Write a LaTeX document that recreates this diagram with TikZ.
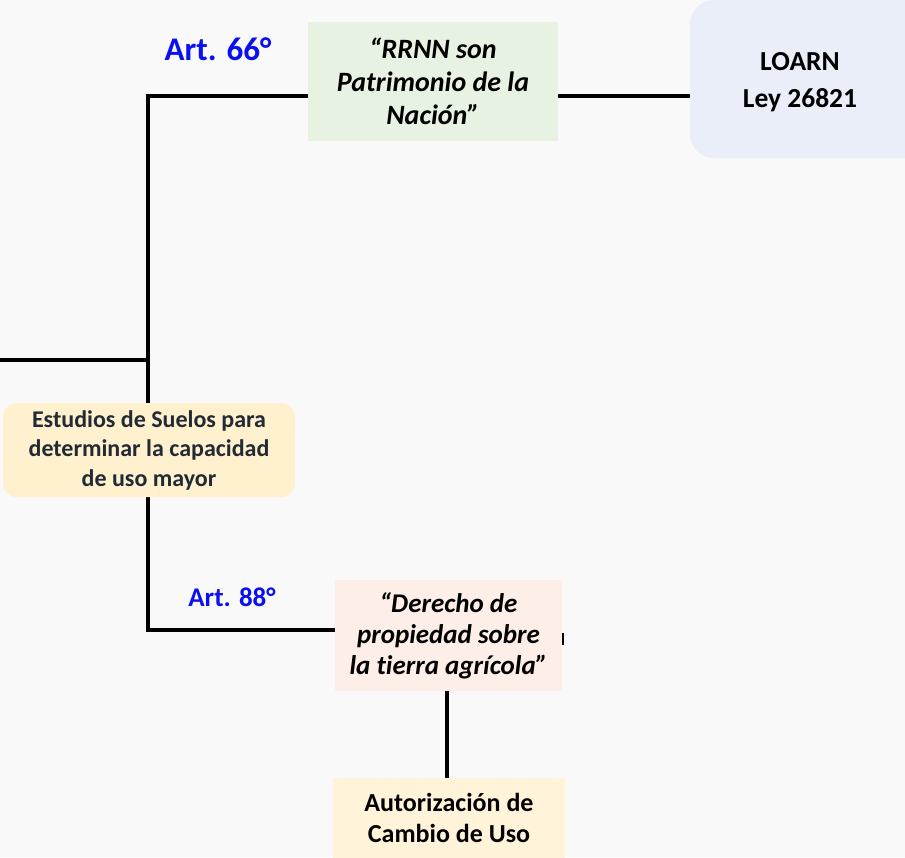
\documentclass[tikz,border=0pt]{standalone}
\usepackage{fontspec}
\setmainfont{Carlito}[Ligatures=NoCommon]
\usetikzlibrary{backgrounds}
\definecolor{bgc}{HTML}{F9F9F9}
\definecolor{greenbox}{HTML}{E7F2E2}
\definecolor{bluebox}{HTML}{E9EEF9}
\definecolor{yellowbox}{HTML}{FFF1CE}
\definecolor{peachbox}{HTML}{FDEFE7}
\definecolor{lightyellow}{HTML}{FFF3D9}
\definecolor{darktext}{HTML}{222A35}
\definecolor{artblue}{HTML}{0A10F0}
\tikzset{
  box/.style={draw=none, inner sep=0pt, align=center, font=\bfseries},
  conn/.style={line width=3.6pt, black},
  artlabel/.style={text=artblue, font=\bfseries, inner sep=0pt}
}
\begin{document}
\begin{tikzpicture}[x=1pt,y=-1pt]
\useasboundingbox (0,0) rectangle (905,857);
% nodes
\node[box, fill=greenbox, minimum width=250pt, minimum height=119pt,
      font=\bfseries\itshape\fontsize{28}{33}\selectfont] (green) at (433,81.5)
      {“RRNN son\\Patrimonio de la\\Nación”};
\node[box, fill=bluebox, rounded corners=24pt, minimum width=240pt, minimum height=158pt] (loarn) at (810,79) {};
\node[box, font=\bfseries\fontsize{27.5}{37}\selectfont] (loarntext) at (800,82)
      {LOARN\\Ley 26821};
\node[box, fill=yellowbox, rounded corners=14pt, minimum width=292pt, minimum height=94pt,
      text=darktext, font=\bfseries\fontsize{24}{29.5}\selectfont] (estudios) at (149,450)
      {Estudios de Suelos para\\determinar la capacidad\\de uso mayor};
\node[box, fill=peachbox, minimum width=227pt, minimum height=111pt,
      font=\bfseries\itshape\fontsize{27}{31}\selectfont] (derecho) at (448.5,635.5)
      {“Derecho de\\propiedad sobre\\la tierra agrícola”};
\node[box, fill=lightyellow, minimum width=232pt, minimum height=80pt,
      font=\bfseries\fontsize{26}{31}\selectfont] (autor) at (449,818)
      {Autorización de\\Cambio de Uso};
\node[artlabel, font=\bfseries\fontsize{33}{36}\selectfont] (art66) at (218,49) {Art. 66°};
\node[artlabel, font=\bfseries\fontsize{27}{30}\selectfont] (art88) at (232,597) {Art. 88°};
% junctions
\coordinate (jtop) at (148,96);
\coordinate (jmid) at (148,360);
\coordinate (jbot) at (148,630);
\coordinate (lend) at (0,360);
\coordinate (ticka) at (563,633);
\coordinate (tickb) at (563,645);
\begin{pgfonlayer}{background}
  \fill[bgc] (0,0) rectangle (905,857);
  \draw[conn] (jtop) -- (jbot);
  \draw[conn] (lend) -- (jmid);
  \draw[conn] ([xshift=-1.8pt]jtop) -- (loarn.west |- jtop);
  \draw[conn] ([xshift=-1.8pt]jbot) -- (derecho.west |- jbot);
  \draw[conn] ([xshift=-1.5pt]derecho.south) -- ([xshift=-1.5pt]derecho.south |- autor.north);
  \draw[line width=2.5pt] (ticka) -- (tickb);
\end{pgfonlayer}
\end{tikzpicture}
\end{document}
